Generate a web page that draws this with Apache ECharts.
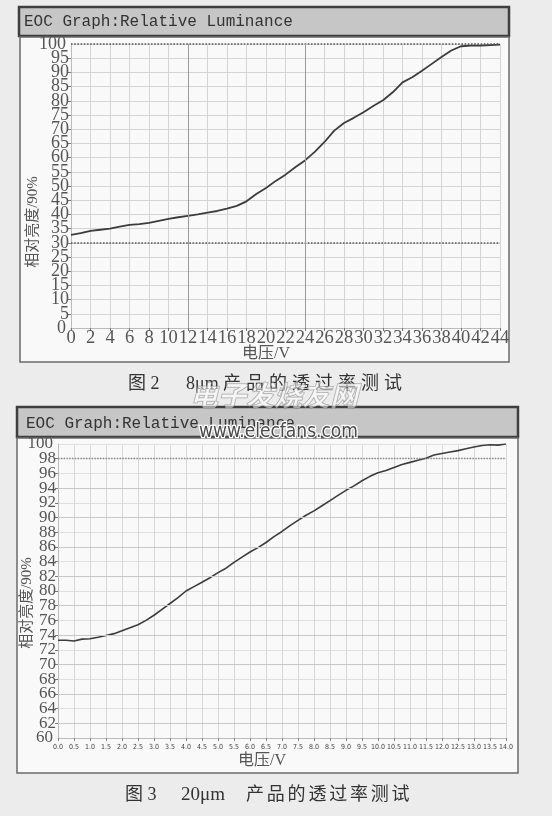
<!DOCTYPE html>
<html>
<head>
<meta charset="utf-8">
<script src="https://cdn.jsdelivr.net/npm/echarts@6/dist/echarts.min.js"></script>
<style>
  html, body { margin: 0; padding: 0; background: #ececec; }
  #chart { width: 552px; height: 816px; }
</style>
</head>
<body>
<div id="chart"></div>
<script>
// ---- 8 µm cell: drive voltage (V) vs relative luminance (%) ----
const voltage8 = [0, 1, 2, 3, 4, 5, 6, 7, 8, 9, 10, 11, 12, 13, 14, 15, 16, 17, 18, 19, 20, 21, 22,
  23, 24, 25, 26, 27, 28, 29, 30, 31, 32, 33, 34, 35, 36, 37, 38, 39, 40, 41, 42, 43, 44];
const luminance8 = [32.8, 33.4, 34.2, 34.6, 35.0, 35.7, 36.3, 36.6, 37.0, 37.7, 38.4, 39.0, 39.5,
  40.0, 40.6, 41.2, 42.0, 43.0, 44.6, 47.2, 49.3, 51.8, 54.0, 56.6, 59.0, 62.0, 65.5, 69.5, 72.2,
  74.0, 76.0, 78.2, 80.2, 83.0, 86.5, 88.3, 90.6, 93.0, 95.4, 97.7, 99.2, 99.4, 99.4, 99.6, 99.8];
const yRange8 = [0, 100];
const refLevels8 = [100, 30];     // dotted reference levels
const majorVolts8 = [12, 24];     // heavier vertical grid lines

// ---- 20 µm cell ----
const voltage20 = [0, 0.25, 0.5, 0.75, 1, 1.25, 1.5, 1.75, 2, 2.25, 2.5, 2.75, 3, 3.25, 3.5, 3.75,
  4, 4.25, 4.5, 4.75, 5, 5.25, 5.5, 5.75, 6, 6.25, 6.5, 6.75, 7, 7.25, 7.5, 7.75, 8, 8.25, 8.5, 8.75,
  9, 9.25, 9.5, 9.75, 10, 10.25, 10.5, 10.75, 11, 11.25, 11.5, 11.75, 12, 12.25, 12.5, 12.75, 13,
  13.25, 13.5, 13.75, 14];
const luminance20 = [73.3, 73.3, 73.2, 73.45, 73.5, 73.7, 73.95, 74.2, 74.6, 75.0, 75.4, 76.0, 76.7,
  77.5, 78.3, 79.1, 80.0, 80.6, 81.2, 81.8, 82.5, 83.1, 83.9, 84.6, 85.3, 85.9, 86.6, 87.4, 88.1,
  88.9, 89.6, 90.3, 90.9, 91.6, 92.3, 93.0, 93.7, 94.3, 95.0, 95.6, 96.1, 96.4, 96.8, 97.2, 97.5,
  97.8, 98.05, 98.5, 98.7, 98.9, 99.1, 99.35, 99.6, 99.8, 99.9, 99.85, 100.0];
const yRange20 = [60, 100];
const refLevels20 = [98];
const majorLevels20 = [62, 66, 70, 74, 78, 82, 86, 90, 94];

// ---- texts ----
const panelTitle = 'EOC Graph:Relative Luminance';
const yAxisName = '相对亮度/90%';
const xAxisName = '电压/V';
const captionTop = { fig: '图 2', size: '8μm', body: '产品的透过率测试' };
const captionBottom = { fig: '图 3', size: '20μm', body: '产品的透过率测试' };
const siteMarkCn = '电子发烧友网';
const siteMarkUrl = 'www.elecfans.com';

const SERIF = "'Liberation Serif', 'Noto Sans CJK SC', serif";
const MONO = "'Liberation Mono', monospace";
const NARROW = "'Liberation Sans Narrow', 'DejaVu Sans Condensed', sans-serif";
const LABEL = '#555';

const zip = (xs, ys) => xs.map((x, i) => [x, ys[i]]);

function textEl(text, x, y, font, opts) {
  opts = opts || {};
  return {
    type: 'text', x: x, y: y, z: 100, rotation: opts.rotation || 0, silent: true,
    style: {
      text: text, font: font,
      fill: opts.fill || '#444',
      stroke: opts.stroke, lineWidth: opts.lineWidth || 0,
      align: opts.align || 'left', verticalAlign: 'middle',
      textAlign: opts.align || 'left', textVerticalAlign: 'middle'
    }
  };
}
function rectEl(x, y, w, h, fill, stroke, lw) {
  return {
    type: 'rect', z: -10, silent: true,
    shape: { x: x, y: y, width: w, height: h },
    style: { fill: fill, stroke: stroke, lineWidth: lw }
  };
}
// caption characters laid out with wide letter spacing
function spacedChars(str, x0, step, y, font) {
  return Array.from(str).map((ch, i) => textEl(ch, x0 + i * step, y, font, { fill: '#333' }));
}

// Main luminance axis: every tick label except the two ends (which would
// otherwise knock out their crowded neighbours).
function lumAxis(grid, range, step, fontSize, gridColor) {
  return {
    gridIndex: grid, type: 'value', min: range[0], max: range[1], interval: step,
    axisLine: { show: true, lineStyle: { color: '#bbb' } },
    axisTick: { show: true, length: 3, lineStyle: { color: '#777' } },
    axisLabel: { color: LABEL, fontFamily: SERIF, fontSize: fontSize, margin: 2,
      showMinLabel: false, showMaxLabel: false },
    splitLine: { show: true, lineStyle: { color: gridColor, width: 1 } }
  };
}
// Companion axis on the same grid that only prints the end labels.
function lumEndAxis(grid, range, step, fontSize) {
  return {
    gridIndex: grid, type: 'value', position: 'left', offset: 0,
    min: range[0], max: range[1], interval: step,
    axisLine: { show: false }, axisTick: { show: false }, splitLine: { show: false },
    axisLabel: { color: LABEL, fontFamily: SERIF, fontSize: fontSize, margin: 5,
      showMinLabel: true, showMaxLabel: true,
      formatter: v => (v === range[0] || v === range[1]) ? String(v) : '' }
  };
}

const markHidden = { symbol: ['none', 'none'], silent: true, label: { show: false }, animation: false };

const option = {
  backgroundColor: '#ececec',
  animation: false,
  grid: [
    { left: 71, top: 44, width: 429, height: 284 },
    { left: 58, top: 444, width: 448, height: 294 }
  ],
  xAxis: [
    {
      gridIndex: 0, type: 'value', min: 0, max: 44, interval: 2,
      axisLine: { lineStyle: { color: '#bbb' } },
      axisTick: { show: true, length: 3, lineStyle: { color: '#777' } },
      axisLabel: { color: LABEL, fontFamily: SERIF, fontSize: 18.5, margin: 1,
        showMinLabel: true, showMaxLabel: true },
      splitLine: { show: true, lineStyle: { color: '#d4d4d4', width: 1 } }
    },
    {
      gridIndex: 1, type: 'value', min: 0, max: 14, interval: 0.5,
      axisLine: { lineStyle: { color: '#bbb' } },
      axisTick: { show: true, length: 3, lineStyle: { color: '#888' } },
      axisLabel: {
        color: '#444', fontFamily: NARROW, fontSize: 7, margin: 6,
        showMinLabel: true, showMaxLabel: true, formatter: v => v.toFixed(1)
      },
      splitLine: { show: true, lineStyle: { color: '#d8d8d8', width: 1 } }
    }
  ],
  yAxis: [
    lumAxis(0, yRange8, 5, 18, '#d4d4d4'),
    lumAxis(1, yRange20, 2, 17, '#e0e0e0'),
    lumEndAxis(0, yRange8, 5, 18),
    lumEndAxis(1, yRange20, 2, 17)
  ],
  series: [
    {
      type: 'line', xAxisIndex: 0, yAxisIndex: 0, data: zip(voltage8, luminance8),
      showSymbol: false, lineStyle: { color: '#3c3c3c', width: 1.8 },
      markLine: Object.assign({}, markHidden, {
        data: refLevels8.map(v => ({ yAxis: v, lineStyle: { type: 'dotted', color: '#555', width: 1.6 } }))
          .concat(majorVolts8.map(v => ({ xAxis: v, lineStyle: { type: 'solid', color: '#9a9a9a', width: 1 } })))
      })
    },
    {
      type: 'line', xAxisIndex: 1, yAxisIndex: 1, data: zip(voltage20, luminance20),
      showSymbol: false, lineStyle: { color: '#3c3c3c', width: 1.6 },
      markLine: Object.assign({}, markHidden, {
        data: refLevels20.map(v => ({ yAxis: v, lineStyle: { type: 'dotted', color: '#888', width: 1.4 } }))
          .concat(majorLevels20.map(v => ({ yAxis: v, lineStyle: { type: 'solid', color: '#c8c8c8', width: 1 } })))
      })
    }
  ],
  graphic: [
    // panel 1 frames
    rectEl(19, 7, 490, 29, '#c6c6c6', '#3e3e3e', 2.5),
    rectEl(20, 37, 489, 325, '#f9f9f9', '#6a6a6a', 1.5),
    // panel 2 frames
    rectEl(17, 407, 501, 30, '#c6c6c6', '#3e3e3e', 2.5),
    rectEl(17, 438, 501, 335, '#f9f9f9', '#6a6a6a', 1.5),

    textEl(panelTitle, 24, 22, '16px ' + MONO, { fill: '#333' }),
    textEl(panelTitle, 26, 424, '16px ' + MONO, { fill: '#333' }),

    textEl(yAxisName, 33, 222, '15px ' + SERIF, { align: 'center', rotation: Math.PI / 2, fill: '#555' }),
    textEl(yAxisName, 27, 603, '15px ' + SERIF, { align: 'center', rotation: Math.PI / 2, fill: '#555' }),
    textEl(xAxisName, 266, 354, '16px ' + SERIF, { align: 'center', fill: '#555' }),
    textEl(xAxisName, 262, 761, '16px ' + SERIF, { align: 'center', fill: '#555' }),

    // captions
    textEl(captionTop.fig, 128, 384, '18px ' + SERIF, { fill: '#333' }),
    textEl(captionTop.size, 186, 384, '18px ' + SERIF, { fill: '#333' }),
    ...spacedChars(captionTop.body, 223, 23, 384, '18px ' + SERIF),
    textEl(captionBottom.fig, 125, 795, '18px ' + SERIF, { fill: '#333' }),
    textEl(captionBottom.size, 181, 795, '19px ' + SERIF, { fill: '#333' }),
    ...spacedChars(captionBottom.body, 246, 20.8, 795, '18px ' + SERIF),

    // site watermark
    textEl(siteMarkCn, 190, 399, 'italic bold 28px ' + SERIF,
      { fill: 'rgba(255,255,255,0.5)', stroke: 'rgba(110,110,110,0.6)', lineWidth: 1 }),
    textEl(siteMarkUrl, 199, 432, '19px ' + NARROW,
      { fill: '#4a4a4a', stroke: '#ffffff', lineWidth: 2.5 })
  ]
};

const chart = echarts.init(document.getElementById('chart'), null, { renderer: 'canvas' });
chart.setOption(option);
</script>
</body>
</html>
